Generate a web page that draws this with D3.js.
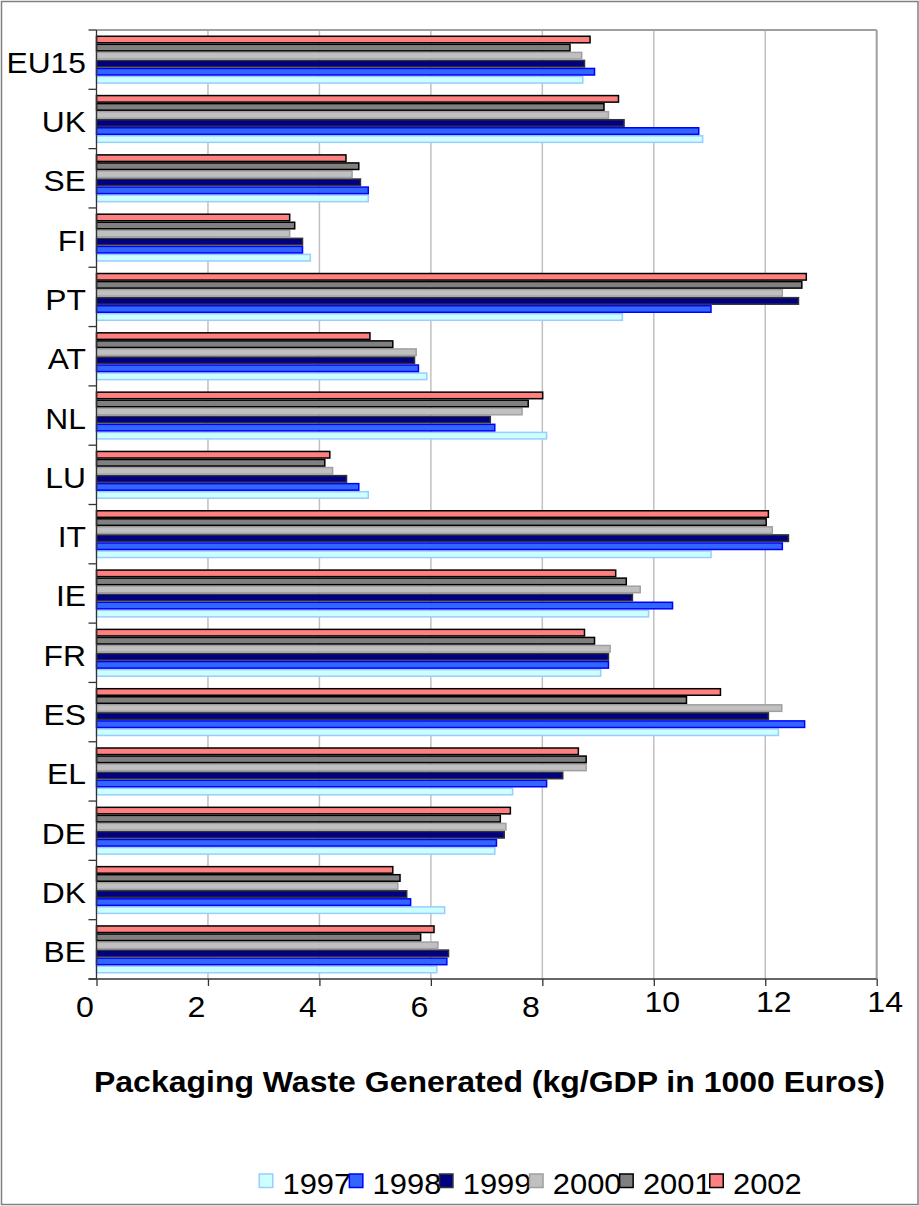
<!DOCTYPE html>
<html><head><meta charset="utf-8">
<script src="https://cdn.jsdelivr.net/npm/d3@7"></script>
<style>body{margin:0;background:#fff}</style>
</head><body>
<svg id="c" width="919" height="1206"></svg>
<script>
// ---- data ----
const categories = ["EU15","UK","SE","FI","PT","AT","NL","LU","IT","IE","FR","ES","EL","DE","DK","BE"];
const years = ["1997","1998","1999","2000","2001","2002"];
const v1997 = [8.74,10.89,4.89,3.85,9.45,5.94,8.09,4.89,11.04,9.92,9.06,12.25,7.48,7.16,6.26,6.12];
const v1998 = [8.95,10.82,4.89,3.71,11.04,5.79,7.16,4.72,12.32,10.35,9.20,12.72,8.09,7.19,5.65,6.30];
const v1999 = [8.77,9.48,4.75,3.71,12.61,5.72,7.08,4.50,12.43,9.63,9.20,12.07,8.38,7.33,5.58,6.33];
const v2000 = [8.72,9.20,4.60,3.48,12.32,5.75,7.65,4.25,12.14,9.77,9.23,12.31,8.80,7.36,5.42,6.14];
const v2001 = [8.51,9.12,4.72,3.57,12.67,5.33,7.76,4.11,12.03,9.52,8.95,10.60,8.80,7.26,5.46,5.83];
const v2002 = [8.87,9.38,4.49,3.48,12.75,4.92,8.02,4.20,12.07,9.33,8.77,11.21,8.66,7.44,5.33,6.07];
const xTicks = [0,2,4,6,8,10,12,14];
const axisTitle = "Packaging Waste Generated (kg/GDP in 1000 Euros)";

const seriesValues = {"1997":v1997,"1998":v1998,"1999":v1999,"2000":v2000,"2001":v2001,"2002":v2002};
const fills   = {"1997":"#ccffff","1998":"#3366ff","1999":"#000080","2000":"#c0c0c0","2001":"#808080","2002":"#ff8080"};
const strokes = {"1997":"#99ccff","1998":"#0000ff","1999":"#333333","2000":"#a0a0a0","2001":"#000000","2002":"#000000"};

const FONT = "'Liberation Sans', Arial, sans-serif";
const svg = d3.select("#c");

function stretch(sel, k){
  sel.each(function(){
    const w = this.getComputedTextLength();
    d3.select(this).attr("textLength", w*k).attr("lengthAdjust","spacingAndGlyphs");
  });
}

// outer frame
svg.append("rect").attr("x",1.5).attr("y",1.5).attr("width",916.5).attr("height",1203)
  .attr("fill","#fff").attr("stroke","#808080").attr("stroke-width",1.5);

const pL = 96.5, pR = 876.7, pT = 30, pB = 979;
const x = d3.scaleLinear().domain([0,14]).range([pL,pR]);
const y0 = d3.scaleBand().domain(categories).range([pT,pB]).paddingInner(0.186).paddingOuter(0.093);
const y1 = d3.scaleBand().domain(years.slice().reverse()).range([0,y0.bandwidth()]);
const yb = d3.scaleLinear().domain([0,categories.length]).range([pT,pB]);

// gridlines
svg.append("g").selectAll("line").data(xTicks.filter(t=>t>0 && t<14)).join("line")
  .attr("x1",d=>x(d)).attr("x2",d=>x(d)).attr("y1",pT).attr("y2",pB)
  .attr("stroke","#c0c0c0").attr("stroke-width",1.5);
// top and right border of plot
svg.append("line").attr("x1",pL).attr("x2",pR).attr("y1",pT).attr("y2",pT)
  .attr("stroke","#a0a0a0").attr("stroke-width",2);
svg.append("line").attr("x1",pR).attr("x2",pR).attr("y1",pT).attr("y2",pB)
  .attr("stroke","#a0a0a0").attr("stroke-width",2);

// bars
const groups = svg.append("g").selectAll("g").data(categories).join("g")
  .attr("transform",d=>`translate(0,${y0(d)})`);
groups.selectAll("rect").data((c,i)=>years.map(yr=>({yr, v:seriesValues[yr][i]}))).join("rect")
  .attr("x",x(0)).attr("y",d=>y1(d.yr)+0.75)
  .attr("width",d=>x(d.v)-x(0)-0.75).attr("height",y1.bandwidth()-1.5)
  .attr("fill",d=>fills[d.yr]).attr("stroke",d=>strokes[d.yr]).attr("stroke-width",1.5);

// left axis
svg.append("line").attr("x1",pL).attr("x2",pL).attr("y1",pT).attr("y2",pB)
  .attr("stroke","#333").attr("stroke-width",1.3);
svg.append("g").selectAll("line").data(d3.range(categories.length+1)).join("line")
  .attr("x1",pL-8).attr("x2",pL).attr("y1",d=>yb(d)).attr("y2",d=>yb(d))
  .attr("stroke","#333").attr("stroke-width",1.3);
const catText = svg.append("g").selectAll("text").data(categories).join("text")
  .attr("x",86).attr("y",d=>y0(d)+y0.bandwidth()/2+13)
  .attr("text-anchor","end").attr("font-family",FONT).attr("font-size",30).attr("fill","#000")
  .text(d=>d);
stretch(catText, 1.06);

// bottom axis
svg.append("line").attr("x1",pL-8).attr("x2",pR).attr("y1",pB).attr("y2",pB)
  .attr("stroke","#333").attr("stroke-width",1.3);
const xAxis = svg.append("g").attr("transform",`translate(0,${pB})`)
  .call(d3.axisBottom(x).tickValues(xTicks).tickSize(7).tickSizeOuter(0).tickFormat(d3.format("d")));
xAxis.select(".domain").remove();
xAxis.selectAll(".tick line").attr("stroke","#333").attr("stroke-width",1.3);
const tickText = xAxis.selectAll(".tick text")
  .attr("font-family",FONT).attr("font-size",30).attr("fill","#000")
  .attr("y",d=>String(d).length>1?11.5:16.5)
  .attr("dx",d=>String(d).length>1?8:-12);
stretch(tickText, 1.07);

// axis title
svg.append("text").attr("x",489.5).attr("y",1092).attr("text-anchor","middle")
  .attr("font-family",FONT).attr("font-size",29).attr("font-weight","bold")
  .attr("textLength",791).attr("lengthAdjust","spacingAndGlyphs")
  .text(axisTitle);

// legend
const lg = d3.scaleBand().domain(years).range([258.5,258.5+6*90.1]);
const li = svg.append("g").selectAll("g").data(years).join("g")
  .attr("transform",d=>`translate(${lg(d)},0)`);
li.append("rect").attr("x",0.75).attr("y",1174).attr("width",13.5).attr("height",13.5)
  .attr("fill",d=>fills[d]).attr("stroke",d=>strokes[d]).attr("stroke-width",1.5);
const legText = li.append("text").attr("x",24).attr("y",1193.5)
  .attr("font-family",FONT).attr("font-size",30).attr("fill","#000").text(d=>d);
stretch(legText, 1.03);
</script>
</body></html>
